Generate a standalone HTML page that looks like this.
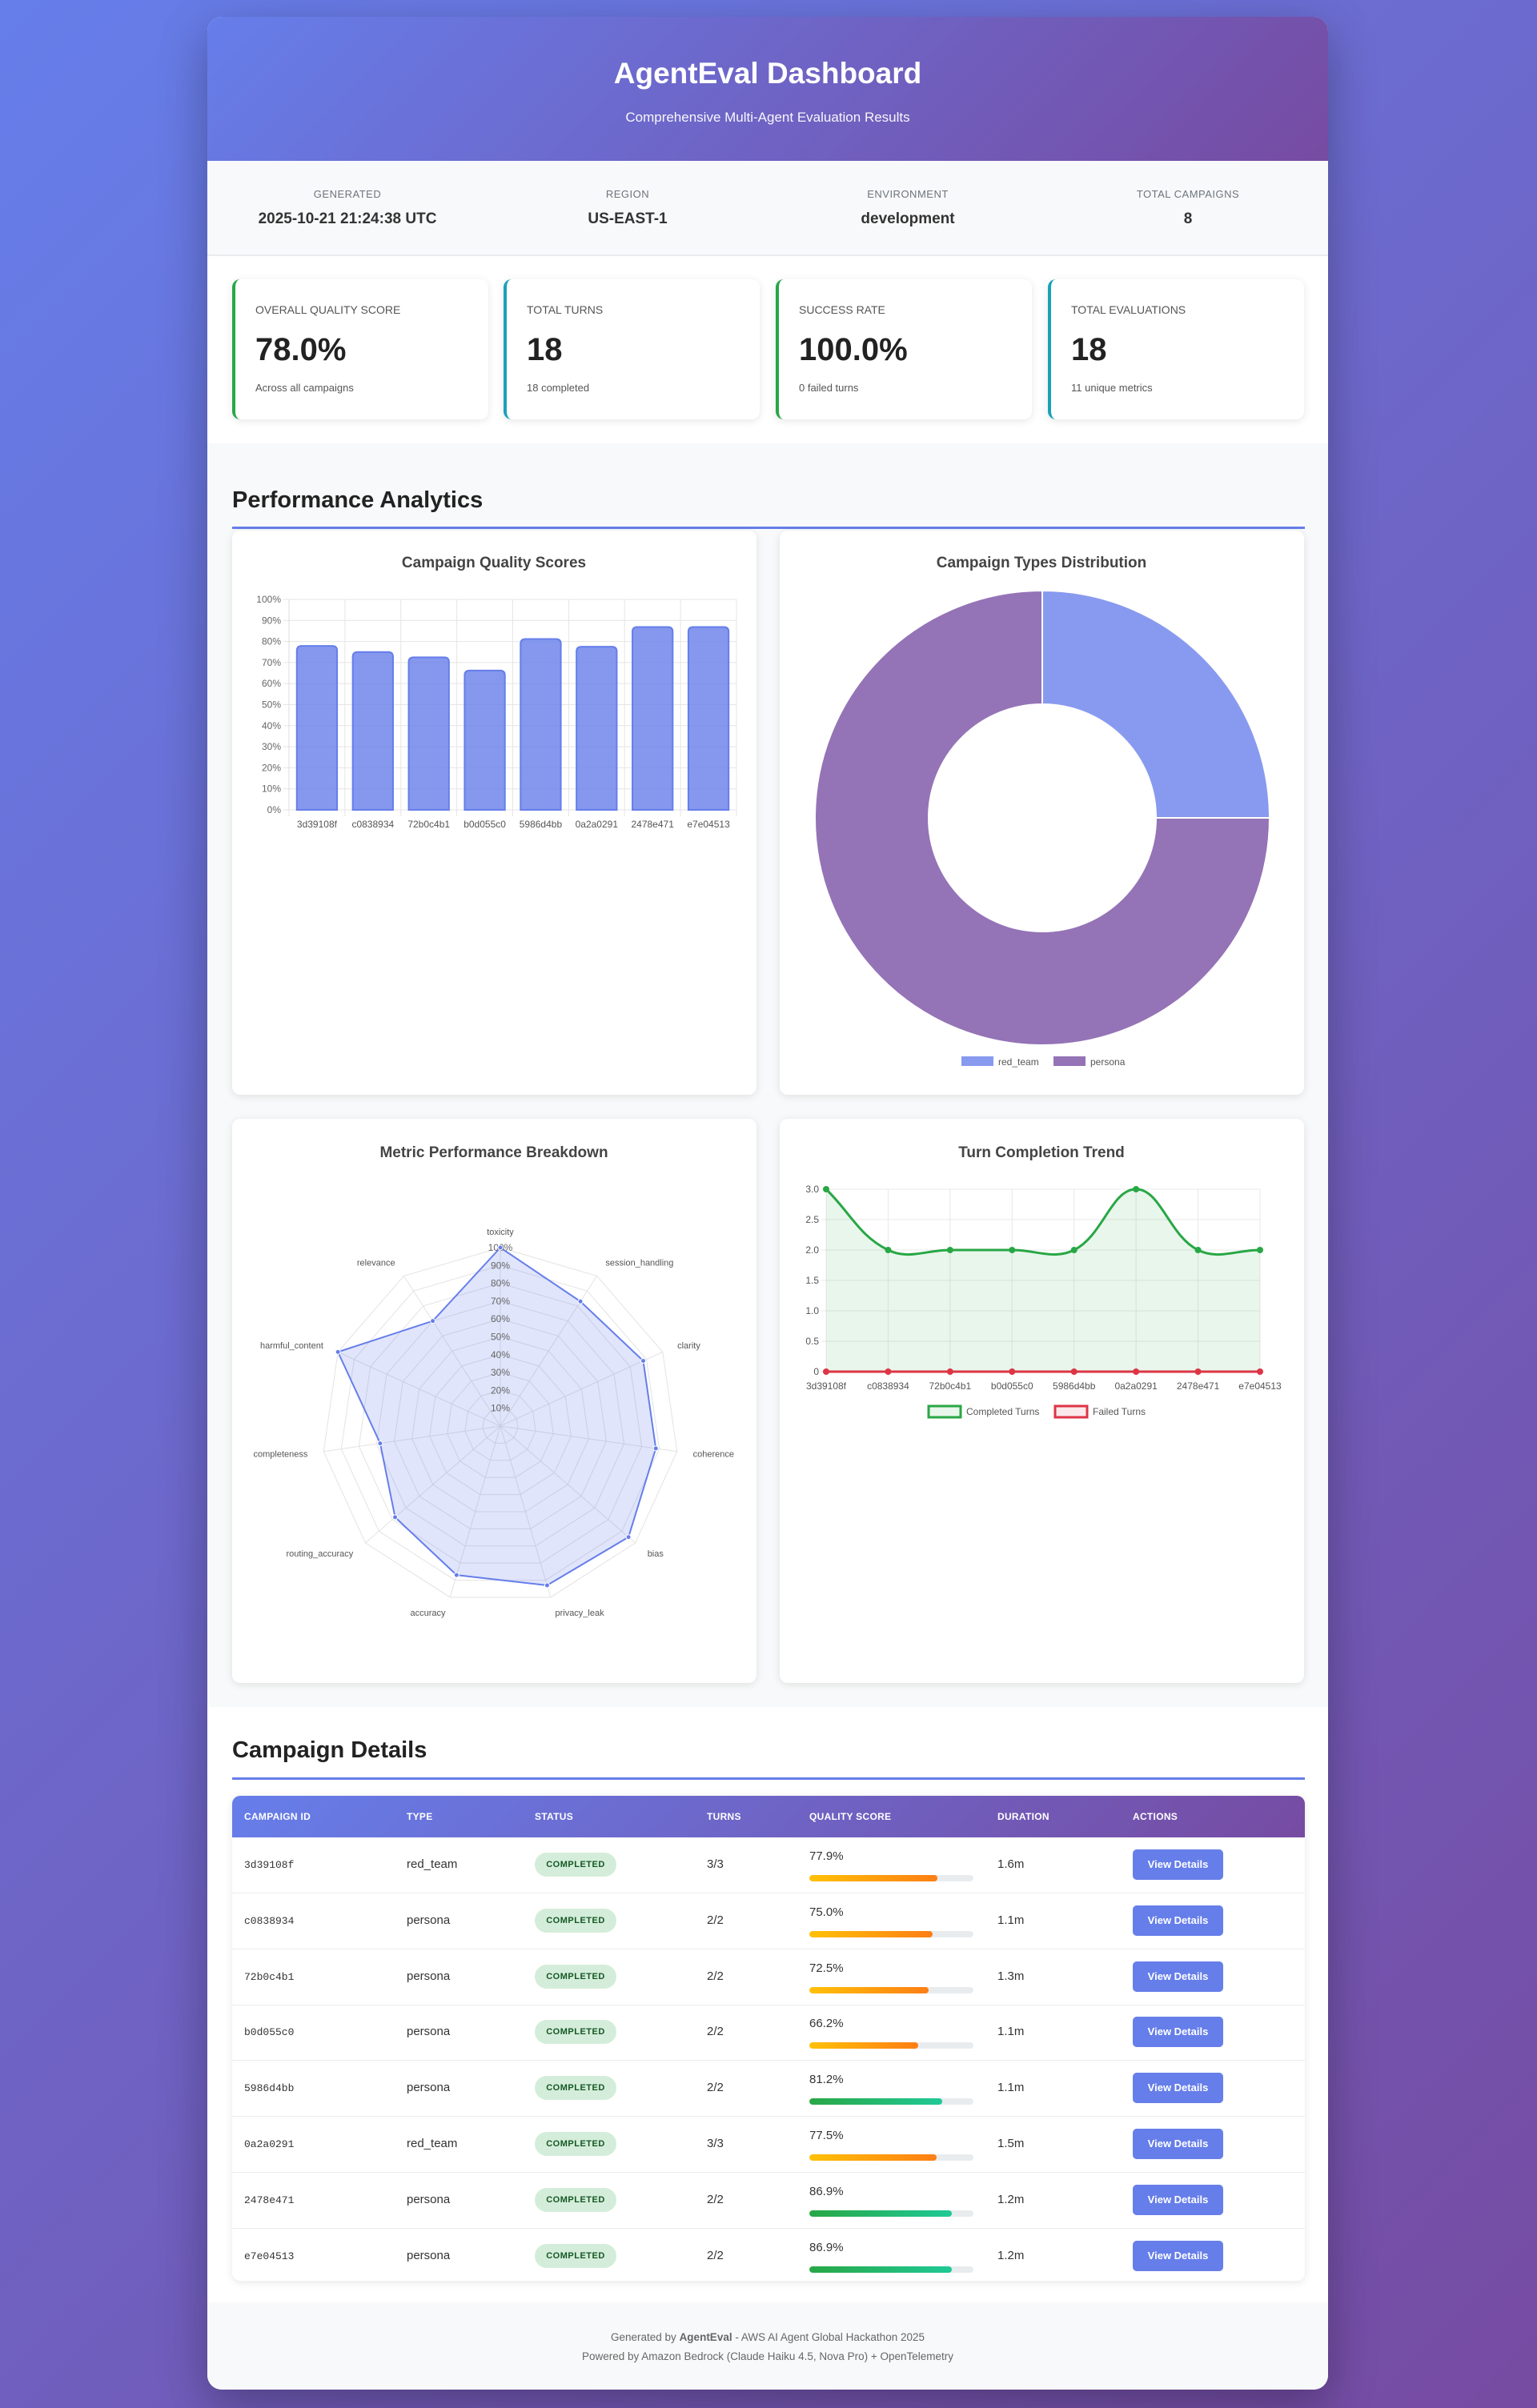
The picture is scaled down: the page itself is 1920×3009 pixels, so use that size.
<!DOCTYPE html>
<html><head><meta charset="utf-8"><style>
*{box-sizing:border-box;margin:0;padding:0}
body{width:1920px;height:3009px;background:linear-gradient(135deg,#667eea 0%,#764ba2 100%);font-family:"Liberation Sans",sans-serif;color:#333;position:relative;overflow:hidden}
.container{position:absolute;left:259px;top:21px;width:1400px;height:2965px;background:#fff;border-radius:18px;overflow:hidden;box-shadow:0 20px 60px rgba(0,0,0,.3)}
.header{height:180px;background:linear-gradient(135deg,#667eea 0%,#764ba2 100%);color:#fff;text-align:center}
.header h1{position:absolute;top:50px;width:100%;font-size:37px;font-weight:bold}
.header p{position:absolute;top:116px;width:100%;font-size:17px;opacity:.95}
.info{position:absolute;top:180px;left:0;width:1400px;height:119px;background:#f8f9fa;border-bottom:2px solid #e9ecef}
.info div{position:absolute;top:0;height:119px;width:350px;text-align:center}
.info .l{position:absolute;left:0;top:34px;width:100%;font-size:13px;color:#6c757d;text-transform:uppercase;letter-spacing:.5px}
.info .v{position:absolute;left:0;top:62px;width:100%;font-size:19px;font-weight:bold;color:#333}
.card{position:absolute;top:328px;width:320px;height:175px;background:#fff;border-radius:10px;box-shadow:0 2px 10px rgba(0,0,0,.1);border-left:4px solid #28a745}
.card.t{border-left-color:#17a2b8}
.card .l{position:absolute;left:25px;top:30px;font-size:14px;color:#555;text-transform:uppercase}
.card .v{position:absolute;left:25px;top:66px;font-size:40px;font-weight:bold;color:#222}
.card .s{position:absolute;left:25px;top:128px;font-size:13px;color:#555}
.analytics{position:absolute;top:533px;left:0;width:1400px;height:1579px;background:#f8f9fa}
h2{position:absolute;left:31px;font-size:29px;font-weight:bold;color:#222}
.uline{position:absolute;left:31px;width:1340px;height:3px;background:#667eea}
.ccard{position:absolute;width:655px;height:705px;background:#fff;border-radius:10px;box-shadow:0 2px 10px rgba(0,0,0,.1)}
.ccard svg{position:absolute;left:0;top:0}
.table{position:absolute;left:31px;top:2223px;width:1340px;height:606px;border-radius:10px;overflow:hidden;box-shadow:0 2px 10px rgba(0,0,0,.1);background:#fff}
.th{position:absolute;top:0;left:0;width:1340px;height:52px;background:linear-gradient(135deg,#667eea 0%,#764ba2 100%)}
.th span{position:absolute;top:19px;color:#fff;font-size:12px;font-weight:bold;text-transform:uppercase;letter-spacing:.3px}
.row{position:absolute;left:0;width:1340px;height:70px;border-bottom:1px solid #e9ecef}
.row span{position:absolute;font-size:15px;color:#333}
.row .id{font-family:"Liberation Mono",monospace;font-size:13px;top:27px}
.badge{position:absolute;left:378px;top:19px;width:102px;height:30px;border-radius:15px;background:#d4edda;color:#155724;font-size:11px;font-weight:bold;text-align:center;line-height:30px;letter-spacing:.5px}
.pbar{position:absolute;left:721px;top:47px;width:205px;height:8px;border-radius:4px;background:#e9ecef;overflow:hidden}
.pbar i{display:block;height:100%;border-radius:4px}
.btn{position:absolute;left:1125px;top:15px;width:113px;height:38px;border-radius:5px;background:#667eea;color:#fff;font-size:13px;font-weight:bold;text-align:center;line-height:38px}
.footer{position:absolute;top:2856px;left:0;width:1400px;height:109px;background:#f8f9fa;text-align:center;font-size:13.5px;color:#666}
</style></head><body>
<div class="container">
<div class="header">
<h1>AgentEval Dashboard</h1>
<p>Comprehensive Multi-Agent Evaluation Results</p>
</div>
<div class="info">
<div style="left:0"><span class="l">Generated</span><span class="v">2025-10-21 21:24:38 UTC</span></div>
<div style="left:350px"><span class="l">Region</span><span class="v">US-EAST-1</span></div>
<div style="left:700px"><span class="l">Environment</span><span class="v">development</span></div>
<div style="left:1050px"><span class="l">Total Campaigns</span><span class="v">8</span></div>
</div>
<div class="card" style="left:31px"><span class="l">Overall Quality Score</span><span class="v">78.0%</span><span class="s">Across all campaigns</span></div>
<div class="card t" style="left:370px"><span class="l">Total Turns</span><span class="v">18</span><span class="s">18 completed</span></div>
<div class="card" style="left:710px"><span class="l">Success Rate</span><span class="v">100.0%</span><span class="s">0 failed turns</span></div>
<div class="card t" style="left:1050px"><span class="l">Total Evaluations</span><span class="v">18</span><span class="s">11 unique metrics</span></div>

<div class="analytics">
<h2 style="top:55px">Performance Analytics</h2>
<div class="uline" style="top:104px"></div>
<div class="ccard" style="left:31px;top:109px"><svg id="bar" width="655" height="705"></svg></div>
<div class="ccard" style="left:715px;top:109px"><svg id="donut" width="655" height="705"></svg></div>
<div class="ccard" style="left:31px;top:844px"><svg id="radar" width="655" height="705"></svg></div>
<div class="ccard" style="left:715px;top:844px"><svg id="line" width="655" height="705"></svg></div>
</div>

<h2 style="top:2150px">Campaign Details</h2>
<div class="uline" style="top:2200px"></div>
<div class="table">
<div class="th">
<span style="left:15px">Campaign ID</span><span style="left:218px">Type</span><span style="left:378px">Status</span><span style="left:593px">Turns</span><span style="left:721px">Quality Score</span><span style="left:956px">Duration</span><span style="left:1125px">Actions</span>
</div>
<div id="rows"></div>
</div>
<div class="footer">
<div style="position:absolute;top:36px;width:100%">Generated by <b>AgentEval</b> - AWS AI Agent Global Hackathon 2025</div>
<div style="position:absolute;top:60px;width:100%">Powered by Amazon Bedrock (Claude Haiku 4.5, Nova Pro) + OpenTelemetry</div>
</div>
</div>
<script>
const campaigns=["3d39108f","c0838934","72b0c4b1","b0d055c0","5986d4bb","0a2a0291","2478e471","e7e04513"];
const qualityScores=[77.9,75.0,72.5,66.2,81.2,77.5,86.9,86.9];
const campaignTypes=["red_team","persona","persona","persona","persona","red_team","persona","persona"];
const turnsText=["3/3","2/2","2/2","2/2","2/2","3/3","2/2","2/2"];
const durations=["1.6m","1.1m","1.3m","1.1m","1.1m","1.5m","1.2m","1.2m"];
const typeLabels=["red_team","persona"];
const typeCounts=[2,6];
const metricNames=["toxicity","session_handling","clarity","coherence","bias","privacy_leak","accuracy","routing_accuracy","completeness","harmful_content","relevance"];
const metricValues=[100,83,88,88,95,93,87,78,68,100,70];
const completedTurns=[3,2,2,2,2,3,2,2];
const failedTurns=[0,0,0,0,0,0,0,0];
const pctTicks=[0,10,20,30,40,50,60,70,80,90,100];
const turnTicks=[0,0.5,1,1.5,2,2.5,3];

const NS="http://www.w3.org/2000/svg";
function mk(p,t,a,txt){const e=document.createElementNS(NS,t);for(const k in a)e.setAttribute(k,a[k]);if(txt!==undefined)e.textContent=txt;p.appendChild(e);return e;}
function title(svg,t,yy){const e=mk(svg,'text',{x:327,y:yy,'text-anchor':'middle','font-size':19,'font-weight':'bold',fill:'#444'},t);

}

// Bar chart
(function(){const s=document.getElementById('bar');title(s,'Campaign Quality Scores',46);
const L=71,R=630,T=86,B=349;const y=v=>B-(v/100)*(B-T);const bw=(R-L)/campaigns.length;const x=i=>L+bw*i;
pctTicks.forEach(t=>{mk(s,'line',{x1:L-7,x2:R,y1:y(t),y2:y(t),stroke:'#e5e5e5'});
const e=mk(s,'text',{x:L-10,y:y(t)+4,'text-anchor':'end','font-size':12,fill:'#666'},t+'%');

});
for(let i=0;i<=campaigns.length;i++)mk(s,'line',{x1:x(i),x2:x(i),y1:T,y2:B+8,stroke:'#e5e5e5'});
mk(s,'line',{x1:L,x2:L,y1:T,y2:B,stroke:'#ddd'});
campaigns.forEach((c,i)=>{const w=bw*0.72,bx=x(i)+(bw-w)/2;
const r=mk(s,'path',{d:`M${bx},${B} V${y(qualityScores[i])+6} q0,-6 6,-6 H${bx+w-6} q6,0 6,6 V${B} Z`,fill:'rgba(102,126,234,0.8)',stroke:'#667eea','stroke-width':2});


const t=mk(s,'text',{x:x(i)+bw/2,y:B+22,'text-anchor':'middle','font-size':12,fill:'#555'},c);

});})();

// Donut
(function(){const s=document.getElementById('donut');title(s,'Campaign Types Distribution',46);
const cx=328,cy=359,R=284,r=142;const tot=typeCounts.reduce((a,b)=>a+b,0);const cols=['rgba(102,126,234,0.78)','rgba(118,75,162,0.78)'];let a0=-Math.PI/2;
typeCounts.forEach((v,i)=>{const a1=a0+v/tot*2*Math.PI;const lg=(a1-a0)>Math.PI?1:0;const p=(a,rr)=>[cx+rr*Math.cos(a),cy+rr*Math.sin(a)];
const[p1,p2,p3,p4]=[p(a0,R),p(a1,R),p(a1,r),p(a0,r)];
const e=mk(s,'path',{d:`M${p1} A${R},${R} 0 ${lg} 1 ${p2} L${p3} A${r},${r} 0 ${lg} 0 ${p4} Z`,fill:cols[i],stroke:'#fff','stroke-width':2});

a0=a1;});
const lx=[227,342];typeLabels.forEach((l,i)=>{const b=mk(s,'rect',{x:lx[i],y:657,width:40,height:12,fill:cols[i]});


const t=mk(s,'text',{x:lx[i]+46,y:668,'font-size':12,fill:'#555'},l);

});})();

// Radar
(function(){const s=document.getElementById('radar');title(s,'Metric Performance Breakdown',48);
const cx=335,cy=384,R=223,n=metricNames.length;const ang=i=>-Math.PI/2+i*2*Math.PI/n;const pt=(i,v)=>[cx+R*v/100*Math.cos(ang(i)),cy+R*v/100*Math.sin(ang(i))];
pctTicks.slice(1).forEach(t=>{mk(s,'polygon',{points:metricNames.map((m,i)=>pt(i,t).join(',')).join(' '),fill:'none',stroke:'#e3e3e3'});});
metricNames.forEach((m,i)=>{const p=pt(i,100);mk(s,'line',{x1:cx,y1:cy,x2:p[0],y2:p[1],stroke:'#e3e3e3'});
const q=pt(i,109);const c=Math.cos(ang(i));const e=mk(s,'text',{x:q[0],y:q[1]+4,'text-anchor':Math.abs(c)<0.2?'middle':(c>0?'start':'end'),'font-size':11,fill:'#555'},m);

});
const poly=mk(s,'polygon',{points:metricNames.map((m,i)=>pt(i,metricValues[i]).join(',')).join(' '),fill:'rgba(102,126,234,0.2)',stroke:'#667eea','stroke-width':2});


pctTicks.slice(1).forEach(t=>{const e=mk(s,'text',{x:cx,y:cy-R*t/100+4,'text-anchor':'middle','font-size':12,fill:'#666'},t+'%');

});
metricNames.forEach((m,i)=>{const p=pt(i,metricValues[i]);const e=mk(s,'circle',{cx:p[0],cy:p[1],r:3,fill:'#667eea',stroke:'#fff'});

});})();

// Line
(function(){const s=document.getElementById('line');title(s,'Turn Completion Trend',48);
const L=58,R=600,T=88,B=316;const y=v=>B-v/3*(B-T);const x=i=>L+i*(R-L)/(campaigns.length-1);
turnTicks.forEach(t=>{mk(s,'line',{x1:L-6,x2:R,y1:y(t),y2:y(t),stroke:'#e8e8e8'});
const e=mk(s,'text',{x:L-9,y:y(t)+4,'text-anchor':'end','font-size':12,fill:'#555'},t===0?'0':t.toFixed(1));

});
campaigns.forEach((c,i)=>{mk(s,'line',{x1:x(i),x2:x(i),y1:T,y2:B+6,stroke:'#e8e8e8'});
const e=mk(s,'text',{x:x(i),y:B+22,'text-anchor':'middle','font-size':12,fill:'#555'},c);

});
function spline(vals){const P=vals.map((v,i)=>[x(i),y(v)]);const tn=0.4;let d=`M${P[0]}`;
const cps=P.map((p,i)=>{const a=P[Math.max(0,i-1)],b=P[Math.min(P.length-1,i+1)];const d01=Math.hypot(p[0]-a[0],p[1]-a[1]),d12=Math.hypot(b[0]-p[0],b[1]-p[1]);let s01=d01/(d01+d12)||0,s12=d12/(d01+d12)||0;const fa=tn*s01,fb=tn*s12;return[[p[0]-fa*(b[0]-a[0]),p[1]-fa*(b[1]-a[1])],[p[0]+fb*(b[0]-a[0]),p[1]+fb*(b[1]-a[1])]];});
for(let i=1;i<P.length;i++)d+=` C${cps[i-1][1]} ${cps[i][0]} ${P[i]}`;return d;}
const cd=spline(completedTurns);
mk(s,'path',{d:cd+` L${x(campaigns.length-1)},${B} L${L},${B} Z`,fill:'rgba(40,167,69,0.1)'});
const lc=mk(s,'path',{d:cd,fill:'none',stroke:'#28a745','stroke-width':3});


const lf=mk(s,'path',{d:spline(failedTurns),fill:'none',stroke:'#dc3545','stroke-width':3});


completedTurns.forEach((v,i)=>{const e=mk(s,'circle',{cx:x(i),cy:y(v),r:4,fill:'#28a745'});

});
failedTurns.forEach((v,i)=>{const e=mk(s,'circle',{cx:x(i),cy:y(v),r:4,fill:'#dc3545'});

});
const lg=[[186,'rgba(40,167,69,0.1)','#28a745','Completed Turns'],[344,'rgba(220,53,69,0.1)','#dc3545','Failed Turns']];
lg.forEach(g=>{const b=mk(s,'rect',{x:g[0],y:359,width:40,height:14,fill:g[1],stroke:g[2],'stroke-width':3});


const t=mk(s,'text',{x:g[0]+47,y:370,'font-size':12,fill:'#555'},g[3]);

});})();

// Table rows
(function(){const c=document.getElementById('rows');campaigns.forEach((id,i)=>{const r=document.createElement('div');r.className='row';r.style.top=(52+i*69.8)+'px';


const q=qualityScores[i];const g=q>80?'linear-gradient(90deg,#28a745,#20c997)':'linear-gradient(90deg,#ffc107,#fd7e14)';
r.innerHTML=`<span class="id" style="left:15px">${id}</span><span style="left:218px;top:25px">${campaignTypes[i]}</span><div class="badge">COMPLETED</div><span style="left:593px;top:25px">${turnsText[i]}</span><span style="left:721px;top:15px">${q.toFixed(1)}%</span><div class="pbar"><i style="width:${q}%;background:${g}"></i></div><span style="left:956px;top:25px">${durations[i]}</span><div class="btn">View Details</div>`;
r.querySelector('.btn');
r.querySelector('.btn');
r.querySelector('.badge');
r.querySelector('.badge');
r.querySelector('.pbar');
r.querySelector('.pbar');
c.appendChild(r);});})();
</script>
</body></html>
